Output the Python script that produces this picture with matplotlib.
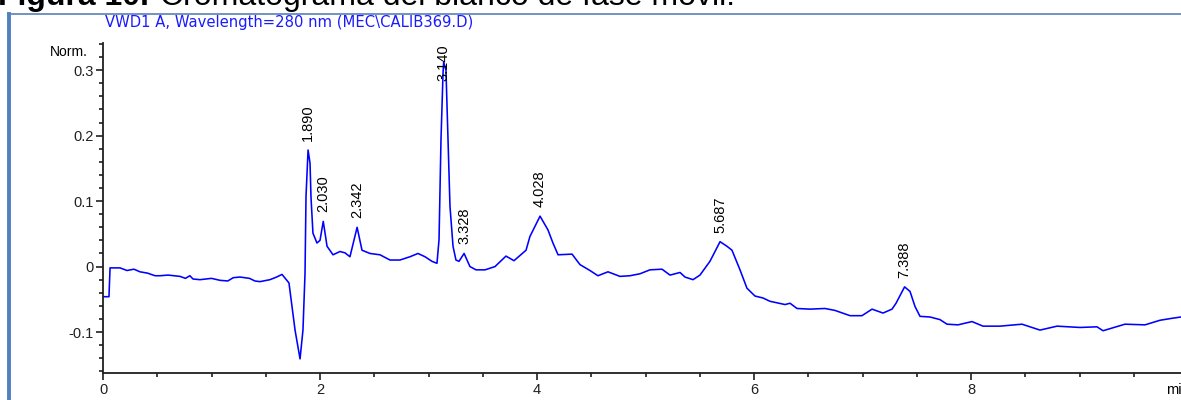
import numpy as np
import matplotlib
matplotlib.use('Agg')
import matplotlib.pyplot as plt
from matplotlib.ticker import MultipleLocator, FuncFormatter
from matplotlib.lines import Line2D

plt.rcParams['font.family'] = ['Liberation Sans', 'DejaVu Sans']
plt.rcParams['axes.unicode_minus'] = False

# señal VWD1 A (280 nm): tiempo en min, absorbancia normalizada
tiempo = [0.000, 0.055, 0.065, 0.157, 0.221, 0.285, 0.341, 0.410, 0.480, 0.525,
          0.600, 0.710, 0.760, 0.800, 0.830, 0.894, 1.000, 1.078, 1.150, 1.200,
          1.263, 1.350, 1.400, 1.447, 1.539, 1.600, 1.650, 1.714, 1.770, 1.816,
          1.843, 1.862, 1.871, 1.890, 1.908, 1.917, 1.935, 1.972, 2.000, 2.030,
          2.065, 2.120, 2.184, 2.230, 2.276, 2.342, 2.387, 2.461, 2.553, 2.645,
          2.737, 2.829, 2.903, 2.968, 3.032, 3.078, 3.097, 3.115, 3.134, 3.140,
          3.161, 3.180, 3.198, 3.226, 3.253, 3.281, 3.328, 3.382, 3.438, 3.521,
          3.613, 3.714, 3.788, 3.899, 3.935, 4.028, 4.101, 4.147, 4.194, 4.323,
          4.396, 4.488, 4.562, 4.654, 4.765, 4.857, 4.949, 5.041, 5.152, 5.226,
          5.318, 5.364, 5.438, 5.502, 5.594, 5.687, 5.751, 5.797, 5.871, 5.935,
          6.009, 6.083, 6.147, 6.286, 6.332, 6.396, 6.516, 6.654, 6.747, 6.885,
          6.995, 7.088, 7.189, 7.272, 7.309, 7.388, 7.438, 7.484, 7.530, 7.622,
          7.714, 7.779, 7.880, 8.009, 8.111, 8.267, 8.470, 8.636, 8.793, 9.005,
          9.161, 9.217, 9.419, 9.604, 9.742, 9.853, 9.935]
senal = [-0.046, -0.046, -0.002, -0.002, -0.006, -0.004, -0.008, -0.010, -0.014, -0.014,
         -0.013, -0.015, -0.018, -0.014, -0.019, -0.020, -0.018, -0.021, -0.022, -0.017,
         -0.016, -0.018, -0.022, -0.023, -0.020, -0.016, -0.012, -0.025, -0.097, -0.141,
         -0.097, -0.010, 0.107, 0.178, 0.158, 0.106, 0.051, 0.036, 0.040, 0.069,
         0.031, 0.018, 0.023, 0.021, 0.015, 0.060, 0.025, 0.020, 0.018, 0.010,
         0.010, 0.015, 0.020, 0.015, 0.008, 0.005, 0.041, 0.193, 0.296, 0.312,
         0.300, 0.193, 0.092, 0.031, 0.010, 0.008, 0.020, 0.000, -0.005, -0.005,
         0.000, 0.016, 0.009, 0.025, 0.046, 0.077, 0.056, 0.036, 0.018, 0.019,
         0.003, -0.006, -0.014, -0.008, -0.015, -0.014, -0.011, -0.005, -0.004, -0.013,
         -0.009, -0.016, -0.020, -0.013, 0.008, 0.038, 0.031, 0.025, -0.005, -0.033,
         -0.045, -0.048, -0.053, -0.058, -0.056, -0.064, -0.065, -0.064, -0.067, -0.075,
         -0.075, -0.065, -0.071, -0.065, -0.056, -0.031, -0.038, -0.061, -0.076, -0.077,
         -0.081, -0.088, -0.089, -0.084, -0.091, -0.091, -0.088, -0.097, -0.091, -0.093,
         -0.092, -0.098, -0.088, -0.089, -0.082, -0.079, -0.077]

# tiempos de retención marcados
picos = [1.890, 2.030, 2.342, 3.140, 3.328, 4.028, 5.687, 7.388]

x_ticks = [0, 2, 4, 6, 8]
y_ticks = [-0.1, 0, 0.1, 0.2, 0.3]

W, H = 1181, 400
fig = plt.figure(figsize=(W / 100, H / 100), dpi=100)
fig.patch.set_facecolor('white')
ax = fig.add_axes([103 / W, 1 - 373.3 / H, 1085 / W, 330 / H])

ax.plot(tiempo, senal, color='#0000ff', lw=1.15)

ax.set_xlim(0, 10)
ax.set_ylim(-0.163, 0.341)
ax.set_xticks(x_ticks)
ax.set_yticks(y_ticks)
ax.xaxis.set_minor_locator(MultipleLocator(0.5))
ax.yaxis.set_minor_locator(MultipleLocator(0.02))
ax.yaxis.set_major_formatter(FuncFormatter(lambda v, p: '%g' % round(v, 3)))

for s in ['top', 'right']:
    ax.spines[s].set_visible(False)
for s in ['left', 'bottom']:
    ax.spines[s].set_linewidth(1.3)
    ax.spines[s].set_color('#202020')
ax.tick_params(which='major', direction='out', length=5, width=1.2, labelsize=10.5,
               colors='#202020', pad=2)
ax.tick_params(which='minor', direction='out', length=3, width=1.2, colors='#202020')

fig.text(88 / W, 1 - 52 / H, 'Norm.', ha='right', va='center', fontsize=10)
ax.text(9.8, -0.03, 'min', transform=ax.get_xaxis_transform(), ha='left', va='top',
        fontsize=10.5)

# etiquetas de los picos
ymax = ax.get_ylim()[1]
for t in picos:
    y = np.interp(t, tiempo, senal)
    if y + 0.08 > ymax:
        ax.text(t, ymax - 0.002, '%.3f' % t, rotation=90, ha='center', va='top',
                fontsize=10.5)
    else:
        ax.text(t, y + 0.014, '%.3f' % t, rotation=90, ha='center', va='bottom',
                fontsize=10.5)

# marco de la ventana y encabezado
fig.add_artist(Line2D([9.5 / W, 9.5 / W], [0, 1 - 14 / H], color='#4f81bd', lw=2.8))
fig.add_artist(Line2D([8 / W, 1], [1 - 14 / H, 1 - 14 / H], color='#5a7fb5', lw=1.2))
fig.text(105 / W, 1 - 22 / H, r'VWD1 A, Wavelength=280 nm (MEC\CALIB369.D)',
         color='#1a1aff', fontsize=10.6, va='center', ha='left', family='DejaVu Sans')

fig.text(-2 / W, 1 - 5.5 / H, 'Figura 10.', fontsize=23, fontweight='bold', va='baseline')
fig.text(160 / W, 1 - 5.5 / H, 'Cromatograma del blanco de fase móvil.', fontsize=23,
         va='baseline')

fig.savefig('out.png', dpi=100)
